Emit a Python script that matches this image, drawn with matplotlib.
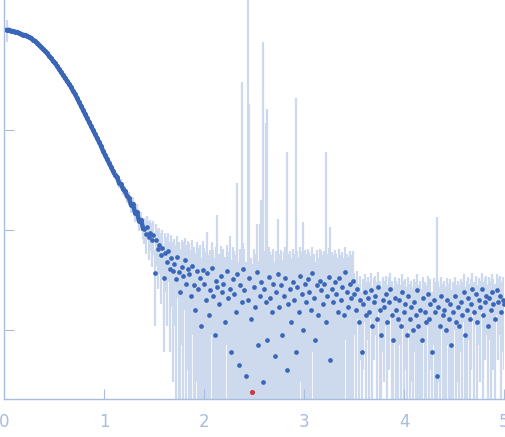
import numpy as np
import matplotlib
matplotlib.use("Agg")
import matplotlib.pyplot as plt

# low-q part of the curve: q and log10(I), error in percent of I
q_curve = [0.03, 0.05, 0.07, 0.09, 0.11, 0.13, 0.15, 0.17, 0.19, 0.21,
           0.23, 0.25, 0.27, 0.29, 0.31, 0.33, 0.35, 0.37, 0.39, 0.41,
           0.43, 0.45, 0.47, 0.49, 0.51, 0.53, 0.55, 0.57, 0.59, 0.61,
           0.63, 0.65, 0.67, 0.69, 0.71, 0.73, 0.75, 0.77, 0.79, 0.81,
           0.83, 0.85, 0.87, 0.89, 0.91, 0.93, 0.95, 0.97, 0.99, 1.01,
           1.03, 1.05, 1.07, 1.09, 1.11, 1.13, 1.15, 1.17, 1.19, 1.21,
           1.23, 1.25, 1.27, 1.29, 1.31, 1.33, 1.35, 1.37, 1.39]
log_i_curve = [0.00, 0.00, -0.01, -0.01, -0.02, -0.02, -0.03, -0.04, -0.05, -0.05,
               -0.06, -0.07, -0.08, -0.10, -0.11, -0.13, -0.15, -0.17, -0.19, -0.21,
               -0.23, -0.26, -0.28, -0.31, -0.33, -0.36, -0.39, -0.42, -0.45, -0.48,
               -0.51, -0.54, -0.57, -0.61, -0.64, -0.68, -0.72, -0.76, -0.80, -0.84,
               -0.88, -0.92, -0.96, -1.00, -1.04, -1.08, -1.12, -1.16, -1.21, -1.25,
               -1.29, -1.33, -1.37, -1.41, -1.45, -1.47, -1.53, -1.54, -1.59, -1.61,
               -1.66, -1.68, -1.75, -1.74, -1.83, -1.82, -1.91, -1.90, -1.98]
err_pct_curve = [25, 6, 3, 2, 2, 1.5, 1.5, 1.5, 1.5, 1.5,
                 1.5, 1.5, 1.5, 1.5, 1.5, 1.5, 1.5, 1.5, 2, 2,
                 2, 2, 2, 2, 2, 2, 2, 2, 2, 2,
                 2, 2, 2.5, 2.5, 2.5, 2.5, 3, 3, 3, 3,
                 3.5, 3.5, 4, 4, 4.5, 4.5, 5, 5, 6, 6,
                 7, 7, 8, 8, 9, 9, 10, 11, 12, 13,
                 14, 15, 16, 17, 18, 19, 20, 21, 22]

# high-q part: q, I and error in units of 1e-3
q_tail = [1.400, 1.415, 1.430, 1.445, 1.460, 1.475, 1.490, 1.505, 1.520, 1.535,
          1.550, 1.565, 1.580, 1.595, 1.610, 1.625, 1.640, 1.655, 1.670, 1.685,
          1.700, 1.715, 1.730, 1.745, 1.760, 1.775, 1.790, 1.805, 1.820, 1.835,
          1.850, 1.865, 1.880, 1.895, 1.910, 1.925, 1.940, 1.955, 1.970, 1.985,
          2.000, 2.015, 2.030, 2.045, 2.060, 2.075, 2.090, 2.105, 2.120, 2.135,
          2.150, 2.165, 2.180, 2.195, 2.210, 2.225, 2.240, 2.255, 2.270, 2.285,
          2.300, 2.315, 2.330, 2.345, 2.360, 2.375, 2.390, 2.405, 2.420, 2.435,
          2.450, 2.465, 2.480, 2.495, 2.510, 2.525, 2.540, 2.555, 2.570, 2.585,
          2.600, 2.615, 2.630, 2.645, 2.660, 2.675, 2.690, 2.705, 2.720, 2.735,
          2.750, 2.765, 2.780, 2.795, 2.810, 2.825, 2.840, 2.855, 2.870, 2.885,
          2.900, 2.915, 2.930, 2.945, 2.960, 2.975, 2.990, 3.005, 3.020, 3.035,
          3.050, 3.065, 3.080, 3.095, 3.110, 3.125, 3.140, 3.155, 3.170, 3.185,
          3.200, 3.215, 3.230, 3.245, 3.260, 3.275, 3.290, 3.305, 3.320, 3.335,
          3.350, 3.365, 3.380, 3.395, 3.410, 3.425, 3.440, 3.455, 3.470, 3.485,
          3.500, 3.515, 3.530, 3.545, 3.560, 3.575, 3.590, 3.605, 3.620, 3.635,
          3.650, 3.665, 3.680, 3.695, 3.710, 3.725, 3.740, 3.755, 3.770, 3.785,
          3.800, 3.815, 3.830, 3.845, 3.860, 3.875, 3.890, 3.905, 3.920, 3.935,
          3.950, 3.965, 3.980, 3.995, 4.010, 4.025, 4.040, 4.055, 4.070, 4.085,
          4.100, 4.115, 4.130, 4.145, 4.160, 4.175, 4.190, 4.205, 4.220, 4.235,
          4.250, 4.265, 4.280, 4.295, 4.310, 4.325, 4.340, 4.355, 4.370, 4.385,
          4.400, 4.415, 4.430, 4.445, 4.460, 4.475, 4.490, 4.505, 4.520, 4.535,
          4.550, 4.565, 4.580, 4.595, 4.610, 4.625, 4.640, 4.655, 4.670, 4.685,
          4.700, 4.715, 4.730, 4.745, 4.760, 4.775, 4.790, 4.805, 4.820, 4.835,
          4.850, 4.865, 4.880, 4.895, 4.910, 4.925, 4.940, 4.955, 4.970, 4.985,
          5.000]
i_tail = [10.2, 9.1, 10.8, 8.6, 9.4, 8.0, 8.9, 3.7, 7.9, 6.4,
          7.0, 5.6, 6.6, 3.3, 5.9, 4.8, 6.2, 4.1, 5.3, 3.9,
          4.6, 3.2, 5.4, 3.8, 2.4, 4.3, 3.5, 5.0, 2.9, 4.1,
          3.6, 2.2, 4.4, 2.8, 1.6, 3.9, 2.6, 3.3, 1.1, 4.0,
          2.9, 2.0, 3.7, 1.4, 2.5, 4.2, 2.2, 0.9, 3.1, 2.7,
          1.8, 3.5, 2.4, 2.9, 1.2, 3.9, 2.1, 2.6, 0.6, 3.2,
          2.3, 1.5, 3.6, 0.45, 2.8, 1.9, 4.1, 2.5, 0.35, 2.0,
          3.3, 1.3, 0.24, 2.7, 1.7, 3.8, 0.7, 2.2, 3.0, 0.3,
          2.6, 1.9, 0.8, 3.4, 2.1, 1.5, 2.9, 0.55, 2.4, 3.6,
          1.7, 2.8, 0.9, 2.2, 3.3, 0.4, 1.8, 2.6, 1.2, 3.0,
          2.0, 0.6, 2.7, 1.5, 3.5, 2.3, 1.0, 2.9, 1.9, 3.2,
          2.4, 1.6, 3.7, 2.1, 0.8, 2.8, 1.4, 3.1, 2.5, 1.8,
          2.9, 1.2, 2.2, 3.4, 0.5, 2.6, 1.9, 3.0, 2.3, 1.5,
          3.3, 2.0, 2.7, 1.4, 3.8, 2.4, 1.7, 2.9, 2.1, 3.1,
          2.3, 1.6, 2.6, 1.2, 2.0, 0.6, 1.8, 2.4, 1.4, 2.1,
          1.5, 2.5, 1.1, 1.9, 2.2, 1.3, 2.7, 1.6, 0.9, 2.0,
          1.7, 2.3, 1.2, 1.9, 2.6, 1.4, 0.8, 2.1, 1.6, 1.3,
          2.0, 1.1, 2.4, 1.5, 1.8, 0.9, 2.2, 1.3, 1.7, 1.0,
          1.9, 1.4, 2.5, 1.1, 1.6, 0.8, 2.1, 1.5, 1.2, 2.3,
          1.3, 1.8, 0.6, 2.0, 1.5, 0.35, 1.7, 1.1, 2.2, 1.4,
          1.6, 1.0, 2.0, 1.3, 1.8, 0.7, 1.5, 2.2, 1.2, 1.7,
          1.1, 1.9, 1.4, 2.4, 0.9, 1.6, 2.1, 1.3, 1.8, 2.6,
          1.5, 2.3, 1.2, 2.0, 1.7, 2.6, 1.4, 1.9, 2.2, 1.1,
          2.1, 1.6, 2.4, 1.8, 1.3, 2.5, 1.9, 2.2, 1.5, 2.0,
          1.8]
err_tail = [3.0, 3.4, 2.9, 3.6, 3.2, 3.7, 3.3, 2.6, 3.5, 3.8,
            3.4, 3.8, 3.3, 2.7, 3.5, 3.7, 3.2, 3.5, 3.6, 3.6,
            3.5, 3.9, 3.3, 3.8, 4.1, 3.6, 4.0, 3.4, 4.1, 3.7,
            3.8, 4.1, 3.5, 3.9, 4.3, 3.6, 4.0, 3.7, 4.2, 3.8,
            3.7, 4.0, 5.8, 4.2, 3.8, 3.3, 4.1, 4.4, 3.6, 11.3,
            4.0, 3.4, 3.8, 3.6, 4.2, 3.2, 3.9, 6.1, 4.4, 3.5,
            3.8, 4.1, 26.0, 4.3, 3.6, 298.0, 3.3, 3.9, 4.4, 2500.0,
            179.0, 4.0, 4.3, 3.7, 4.1, 7.7, 4.2, 9.3, 17.0, 760.0,
            3.6, 115.0, 161.0, 3.3, 3.9, 4.1, 3.5, 4.2, 3.7, 9.3,
            4.0, 3.5, 4.1, 3.8, 3.4, 60.0, 3.9, 3.6, 4.0, 3.4,
            3.8, 208.0, 3.5, 3.9, 3.2, 3.7, 11.0, 3.4, 3.8, 3.3,
            3.6, 3.9, 3.1, 3.7, 4.0, 3.5, 3.8, 3.3, 3.6, 3.8,
            3.3, 59.0, 3.6, 3.2, 10.2, 3.4, 3.7, 3.3, 3.5, 3.8,
            3.1, 3.6, 3.3, 3.8, 3.0, 3.4, 3.7, 3.2, 3.5, 3.0,
            1.4, 1.6, 1.3, 1.7, 1.5, 1.8, 1.4, 1.2, 1.6, 1.3,
            1.5, 1.2, 1.6, 1.4, 1.3, 1.7, 1.1, 1.5, 1.8, 1.4,
            1.4, 1.2, 1.6, 1.5, 1.1, 1.7, 1.9, 1.3, 1.5, 1.6,
            1.3, 1.7, 1.2, 1.6, 1.4, 1.8, 1.2, 1.6, 1.4, 1.7,
            1.3, 1.6, 1.1, 1.7, 1.5, 1.8, 1.3, 1.5, 1.6, 1.2,
            1.7, 1.4, 1.8, 1.3, 1.5, 13.1, 1.4, 1.6, 1.2, 1.5,
            1.5, 1.7, 1.3, 1.6, 1.4, 1.8, 1.5, 1.2, 1.6, 1.4,
            1.7, 1.3, 1.6, 1.2, 1.8, 1.5, 1.3, 1.6, 1.4, 1.1,
            1.5, 1.2, 1.6, 1.3, 1.4, 1.1, 1.6, 1.4, 1.3, 1.7,
            1.3, 1.5, 1.2, 1.4, 1.6, 1.1, 1.4, 1.3, 1.5, 1.4,
            1.4]
# one flagged point drawn in red
q_flag = [2.48]
i_flag = [0.24]

dot_color = "#3a66b8"
bar_color = "#cddaee"
axis_color = "#a9bde0"

i_c = 10 ** np.array(log_i_curve)
e_c = i_c * np.array(err_pct_curve) / 100
i_t = np.array(i_tail) * 1e-3
e_t = np.array(err_tail) * 1e-3

q_all = np.concatenate([q_curve, q_tail])
i_all = np.concatenate([i_c, i_t])
e_all = np.concatenate([e_c, e_t])
low = i_all - e_all
low = np.where(low > 0, low, 1e-6)

fig = plt.figure(figsize=(5.05, 4.37), dpi=100)
ax = fig.add_axes([4 / 505, 38 / 437, 500 / 505, 399 / 437])

ax.vlines(q_all, low, i_all + e_all, colors=bar_color, lw=1.6, zorder=1)
ax.plot(q_curve, i_c, "o", ms=3.6, color=dot_color, mec="none", zorder=3)
ax.plot(q_curve, i_c, "-", lw=3.2, color=dot_color, zorder=2)
ax.plot(q_tail, i_t, "o", ms=3.4, color=dot_color, mec="none", zorder=3)
ax.plot(q_flag, np.array(i_flag) * 1e-3, "o", ms=3.4, color="#e8302a", mec="none", zorder=4)

ax.set_yscale("log")
ax.set_xlim(0, 5)
ax.set_ylim(10 ** -3.69, 10 ** 0.30)
ax.set_xticks([0, 1, 2, 3, 4, 5])
ax.set_yticks([1e-3, 1e-2, 1e-1, 1])
ax.yaxis.set_minor_locator(matplotlib.ticker.NullLocator())
ax.set_yticklabels([])

for s in ["top", "right"]:
    ax.spines[s].set_visible(False)
for s in ["left", "bottom"]:
    ax.spines[s].set_color(axis_color)
    ax.spines[s].set_linewidth(1.0)
ax.tick_params(direction="in", length=7, color=axis_color, labelcolor=axis_color,
               labelsize=12, pad=10)
ax.patch.set_alpha(0)

fig.savefig("out.png", dpi=100)
